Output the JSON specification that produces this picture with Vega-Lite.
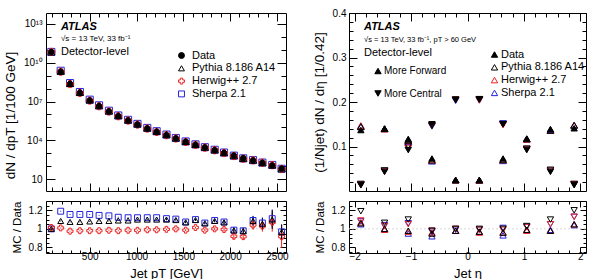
{
  "$schema": "https://vega.github.io/schema/vega-lite/v6.json",
  "autosize": {"type": "pad"},
  "padding": {"left": 3, "top": 7, "right": 0, "bottom": 0},
  "background": "white",
  "config": {
    "font": "Liberation Sans",
    "view": {"stroke": "black", "strokeWidth": 1},
    "axis": {"domain": false, "grid": false, "tickColor": "black", "tickWidth": 1, "labelColor": "black", "labelFont": "Liberation Sans", "labelFontSize": 10, "titleFont": "Liberation Sans", "titleFontSize": 13.5, "titleFontWeight": "normal", "titleColor": "black", "labelFlush": false, "labelOverlap": false},
    "legend": {"labelFont": "Liberation Sans", "labelFontSize": 11, "labelColor": "black", "padding": 0, "offset": 0, "symbolStrokeWidth": 1}
  },
  "resolve": {
    "scale": {"shape": "independent", "fill": "independent", "stroke": "independent", "color": "independent"},
    "legend": {"shape": "independent", "fill": "independent", "stroke": "independent", "color": "independent"}
  },
  "datasets": {
    "one": [{}],
    "lmain": [
      {"pt": 90, "series": "Sherpa 2.1", "v": 6.8e10}, {"pt": 190, "series": "Sherpa 2.1", "v": 2.38e9}, {"pt": 290, "series": "Sherpa 2.1", "v": 2.66e8}, {"pt": 395, "series": "Sherpa 2.1", "v": 5.43e7}, {"pt": 500, "series": "Sherpa 2.1", "v": 1.39e7}, {"pt": 600, "series": "Sherpa 2.1", "v": 5.04e6}, {"pt": 705, "series": "Sherpa 2.1", "v": 1.94e6}, {"pt": 805, "series": "Sherpa 2.1", "v": 8.33e5}, {"pt": 910, "series": "Sherpa 2.1", "v": 3.81e5}, {"pt": 1010, "series": "Sherpa 2.1", "v": 1.86e5}, {"pt": 1115, "series": "Sherpa 2.1", "v": 9.07e4}, {"pt": 1215, "series": "Sherpa 2.1", "v": 5.04e4}, {"pt": 1320, "series": "Sherpa 2.1", "v": 2.78e4}, {"pt": 1420, "series": "Sherpa 2.1", "v": 1.52e4}, {"pt": 1525, "series": "Sherpa 2.1", "v": 8160}, {"pt": 1630, "series": "Sherpa 2.1", "v": 4840}, {"pt": 1730, "series": "Sherpa 2.1", "v": 2920}, {"pt": 1835, "series": "Sherpa 2.1", "v": 1850}, {"pt": 1935, "series": "Sherpa 2.1", "v": 1130}, {"pt": 2040, "series": "Sherpa 2.1", "v": 651}, {"pt": 2140, "series": "Sherpa 2.1", "v": 401}, {"pt": 2245, "series": "Sherpa 2.1", "v": 294}, {"pt": 2345, "series": "Sherpa 2.1", "v": 189}, {"pt": 2450, "series": "Sherpa 2.1", "v": 124}, {"pt": 2550, "series": "Sherpa 2.1", "v": 63},
      {"pt": 90, "series": "Herwig++ 2.7", "v": 6.9e10}, {"pt": 190, "series": "Herwig++ 2.7", "v": 2.02e9}, {"pt": 290, "series": "Herwig++ 2.7", "v": 2.24e8}, {"pt": 395, "series": "Herwig++ 2.7", "v": 4.61e7}, {"pt": 500, "series": "Herwig++ 2.7", "v": 1.18e7}, {"pt": 600, "series": "Herwig++ 2.7", "v": 4.31e6}, {"pt": 705, "series": "Herwig++ 2.7", "v": 1.67e6}, {"pt": 805, "series": "Herwig++ 2.7", "v": 7.25e5}, {"pt": 910, "series": "Herwig++ 2.7", "v": 3.35e5}, {"pt": 1010, "series": "Herwig++ 2.7", "v": 1.64e5}, {"pt": 1115, "series": "Herwig++ 2.7", "v": 8.02e4}, {"pt": 1215, "series": "Herwig++ 2.7", "v": 4.46e4}, {"pt": 1320, "series": "Herwig++ 2.7", "v": 2.49e4}, {"pt": 1420, "series": "Herwig++ 2.7", "v": 1.38e4}, {"pt": 1525, "series": "Herwig++ 2.7", "v": 7490}, {"pt": 1630, "series": "Herwig++ 2.7", "v": 4460}, {"pt": 1730, "series": "Herwig++ 2.7", "v": 2710}, {"pt": 1835, "series": "Herwig++ 2.7", "v": 1700}, {"pt": 1935, "series": "Herwig++ 2.7", "v": 1040}, {"pt": 2040, "series": "Herwig++ 2.7", "v": 607}, {"pt": 2140, "series": "Herwig++ 2.7", "v": 376}, {"pt": 2245, "series": "Herwig++ 2.7", "v": 281}, {"pt": 2345, "series": "Herwig++ 2.7", "v": 183}, {"pt": 2450, "series": "Herwig++ 2.7", "v": 120}, {"pt": 2550, "series": "Herwig++ 2.7", "v": 60},
      {"pt": 90, "series": "Pythia 8.186 A14", "v": 6.8e10}, {"pt": 190, "series": "Pythia 8.186 A14", "v": 2.17e9}, {"pt": 290, "series": "Pythia 8.186 A14", "v": 2.47e8}, {"pt": 395, "series": "Pythia 8.186 A14", "v": 5.05e7}, {"pt": 500, "series": "Pythia 8.186 A14", "v": 1.3e7}, {"pt": 600, "series": "Pythia 8.186 A14", "v": 4.77e6}, {"pt": 705, "series": "Pythia 8.186 A14", "v": 1.84e6}, {"pt": 805, "series": "Pythia 8.186 A14", "v": 8.07e5}, {"pt": 910, "series": "Pythia 8.186 A14", "v": 3.71e5}, {"pt": 1010, "series": "Pythia 8.186 A14", "v": 1.83e5}, {"pt": 1115, "series": "Pythia 8.186 A14", "v": 8.91e4}, {"pt": 1215, "series": "Pythia 8.186 A14", "v": 4.95e4}, {"pt": 1320, "series": "Pythia 8.186 A14", "v": 2.75e4}, {"pt": 1420, "series": "Pythia 8.186 A14", "v": 1.51e4}, {"pt": 1525, "series": "Pythia 8.186 A14", "v": 8130}, {"pt": 1630, "series": "Pythia 8.186 A14", "v": 4820}, {"pt": 1730, "series": "Pythia 8.186 A14", "v": 2920}, {"pt": 1835, "series": "Pythia 8.186 A14", "v": 1840}, {"pt": 1935, "series": "Pythia 8.186 A14", "v": 1120}, {"pt": 2040, "series": "Pythia 8.186 A14", "v": 649}, {"pt": 2140, "series": "Pythia 8.186 A14", "v": 400}, {"pt": 2245, "series": "Pythia 8.186 A14", "v": 293}, {"pt": 2345, "series": "Pythia 8.186 A14", "v": 188}, {"pt": 2450, "series": "Pythia 8.186 A14", "v": 123}, {"pt": 2550, "series": "Pythia 8.186 A14", "v": 63},
      {"pt": 90, "series": "Data", "v": 6.8e10}, {"pt": 190, "series": "Data", "v": 2.0e9}, {"pt": 290, "series": "Data", "v": 2.3e8}, {"pt": 395, "series": "Data", "v": 4.7e7}, {"pt": 500, "series": "Data", "v": 1.2e7}, {"pt": 600, "series": "Data", "v": 4.4e6}, {"pt": 705, "series": "Data", "v": 1.7e6}, {"pt": 805, "series": "Data", "v": 7.4e5}, {"pt": 910, "series": "Data", "v": 3.4e5}, {"pt": 1010, "series": "Data", "v": 1.66e5}, {"pt": 1115, "series": "Data", "v": 8.1e4}, {"pt": 1215, "series": "Data", "v": 4.5e4}, {"pt": 1320, "series": "Data", "v": 2.5e4}, {"pt": 1420, "series": "Data", "v": 1.38e4}, {"pt": 1525, "series": "Data", "v": 7600}, {"pt": 1630, "series": "Data", "v": 4400}, {"pt": 1730, "series": "Data", "v": 2750}, {"pt": 1835, "series": "Data", "v": 1700}, {"pt": 1935, "series": "Data", "v": 1050}, {"pt": 2040, "series": "Data", "v": 660}, {"pt": 2140, "series": "Data", "v": 410}, {"pt": 2245, "series": "Data", "v": 270}, {"pt": 2345, "series": "Data", "v": 178}, {"pt": 2450, "series": "Data", "v": 112}, {"pt": 2550, "series": "Data", "v": 65}
    ],
    "lratio": [
      {"pt": 90, "series": "Sherpa 2.1", "r": 1.0, "e": 0.005}, {"pt": 190, "series": "Sherpa 2.1", "r": 1.19, "e": 0.005}, {"pt": 290, "series": "Sherpa 2.1", "r": 1.155, "e": 0.005}, {"pt": 395, "series": "Sherpa 2.1", "r": 1.155, "e": 0.005}, {"pt": 500, "series": "Sherpa 2.1", "r": 1.155, "e": 0.005}, {"pt": 600, "series": "Sherpa 2.1", "r": 1.145, "e": 0.005}, {"pt": 705, "series": "Sherpa 2.1", "r": 1.14, "e": 0.005}, {"pt": 805, "series": "Sherpa 2.1", "r": 1.125, "e": 0.005}, {"pt": 910, "series": "Sherpa 2.1", "r": 1.12, "e": 0.005}, {"pt": 1010, "series": "Sherpa 2.1", "r": 1.12, "e": 0.005}, {"pt": 1115, "series": "Sherpa 2.1", "r": 1.12, "e": 0.005}, {"pt": 1215, "series": "Sherpa 2.1", "r": 1.12, "e": 0.005}, {"pt": 1320, "series": "Sherpa 2.1", "r": 1.11, "e": 0.008}, {"pt": 1420, "series": "Sherpa 2.1", "r": 1.105, "e": 0.008}, {"pt": 1525, "series": "Sherpa 2.1", "r": 1.074, "e": 0.01}, {"pt": 1630, "series": "Sherpa 2.1", "r": 1.10, "e": 0.01}, {"pt": 1730, "series": "Sherpa 2.1", "r": 1.063, "e": 0.012}, {"pt": 1835, "series": "Sherpa 2.1", "r": 1.09, "e": 0.015}, {"pt": 1935, "series": "Sherpa 2.1", "r": 1.074, "e": 0.02}, {"pt": 2040, "series": "Sherpa 2.1", "r": 0.986, "e": 0.03}, {"pt": 2140, "series": "Sherpa 2.1", "r": 0.979, "e": 0.035}, {"pt": 2245, "series": "Sherpa 2.1", "r": 1.09, "e": 0.05}, {"pt": 2345, "series": "Sherpa 2.1", "r": 1.063, "e": 0.06}, {"pt": 2450, "series": "Sherpa 2.1", "r": 1.11, "e": 0.1}, {"pt": 2550, "series": "Sherpa 2.1", "r": 0.968, "e": 0.08},
      {"pt": 90, "series": "Herwig++ 2.7", "r": 1.015, "e": 0.005}, {"pt": 190, "series": "Herwig++ 2.7", "r": 1.01, "e": 0.005}, {"pt": 290, "series": "Herwig++ 2.7", "r": 0.975, "e": 0.005}, {"pt": 395, "series": "Herwig++ 2.7", "r": 0.98, "e": 0.005}, {"pt": 500, "series": "Herwig++ 2.7", "r": 0.98, "e": 0.005}, {"pt": 600, "series": "Herwig++ 2.7", "r": 0.98, "e": 0.005}, {"pt": 705, "series": "Herwig++ 2.7", "r": 0.985, "e": 0.005}, {"pt": 805, "series": "Herwig++ 2.7", "r": 0.98, "e": 0.005}, {"pt": 910, "series": "Herwig++ 2.7", "r": 0.985, "e": 0.005}, {"pt": 1010, "series": "Herwig++ 2.7", "r": 0.985, "e": 0.005}, {"pt": 1115, "series": "Herwig++ 2.7", "r": 0.99, "e": 0.005}, {"pt": 1215, "series": "Herwig++ 2.7", "r": 0.99, "e": 0.005}, {"pt": 1320, "series": "Herwig++ 2.7", "r": 0.995, "e": 0.008}, {"pt": 1420, "series": "Herwig++ 2.7", "r": 1.0, "e": 0.008}, {"pt": 1525, "series": "Herwig++ 2.7", "r": 0.986, "e": 0.01}, {"pt": 1630, "series": "Herwig++ 2.7", "r": 1.014, "e": 0.01}, {"pt": 1730, "series": "Herwig++ 2.7", "r": 0.986, "e": 0.012}, {"pt": 1835, "series": "Herwig++ 2.7", "r": 1.0, "e": 0.015}, {"pt": 1935, "series": "Herwig++ 2.7", "r": 0.993, "e": 0.02}, {"pt": 2040, "series": "Herwig++ 2.7", "r": 0.92, "e": 0.03}, {"pt": 2140, "series": "Herwig++ 2.7", "r": 0.916, "e": 0.035}, {"pt": 2245, "series": "Herwig++ 2.7", "r": 1.04, "e": 0.05}, {"pt": 2345, "series": "Herwig++ 2.7", "r": 1.03, "e": 0.06}, {"pt": 2450, "series": "Herwig++ 2.7", "r": 1.07, "e": 0.1}, {"pt": 2550, "series": "Herwig++ 2.7", "r": 0.916, "e": 0.12},
      {"pt": 90, "series": "Pythia 8.186 A14", "r": 1.0, "e": 0.005}, {"pt": 190, "series": "Pythia 8.186 A14", "r": 1.085, "e": 0.005}, {"pt": 290, "series": "Pythia 8.186 A14", "r": 1.075, "e": 0.005}, {"pt": 395, "series": "Pythia 8.186 A14", "r": 1.075, "e": 0.005}, {"pt": 500, "series": "Pythia 8.186 A14", "r": 1.08, "e": 0.005}, {"pt": 600, "series": "Pythia 8.186 A14", "r": 1.085, "e": 0.005}, {"pt": 705, "series": "Pythia 8.186 A14", "r": 1.085, "e": 0.005}, {"pt": 805, "series": "Pythia 8.186 A14", "r": 1.09, "e": 0.005}, {"pt": 910, "series": "Pythia 8.186 A14", "r": 1.09, "e": 0.005}, {"pt": 1010, "series": "Pythia 8.186 A14", "r": 1.1, "e": 0.005}, {"pt": 1115, "series": "Pythia 8.186 A14", "r": 1.1, "e": 0.005}, {"pt": 1215, "series": "Pythia 8.186 A14", "r": 1.1, "e": 0.005}, {"pt": 1320, "series": "Pythia 8.186 A14", "r": 1.1, "e": 0.008}, {"pt": 1420, "series": "Pythia 8.186 A14", "r": 1.095, "e": 0.008}, {"pt": 1525, "series": "Pythia 8.186 A14", "r": 1.07, "e": 0.01}, {"pt": 1630, "series": "Pythia 8.186 A14", "r": 1.095, "e": 0.01}, {"pt": 1730, "series": "Pythia 8.186 A14", "r": 1.06, "e": 0.012}, {"pt": 1835, "series": "Pythia 8.186 A14", "r": 1.085, "e": 0.015}, {"pt": 1935, "series": "Pythia 8.186 A14", "r": 1.07, "e": 0.02}, {"pt": 2040, "series": "Pythia 8.186 A14", "r": 0.983, "e": 0.03}, {"pt": 2140, "series": "Pythia 8.186 A14", "r": 0.975, "e": 0.035}, {"pt": 2245, "series": "Pythia 8.186 A14", "r": 1.085, "e": 0.05}, {"pt": 2345, "series": "Pythia 8.186 A14", "r": 1.055, "e": 0.06}, {"pt": 2450, "series": "Pythia 8.186 A14", "r": 1.1, "e": 0.1}, {"pt": 2550, "series": "Pythia 8.186 A14", "r": 0.965, "e": 0.08}
    ],
    "rmain": [
      {"eta": -1.89, "dir": "More Forward", "series": "Sherpa 2.1", "v": 0.144}, {"eta": -1.47, "dir": "More Forward", "series": "Sherpa 2.1", "v": 0.140}, {"eta": -1.05, "dir": "More Forward", "series": "Sherpa 2.1", "v": 0.111}, {"eta": -0.63, "dir": "More Forward", "series": "Sherpa 2.1", "v": 0.067}, {"eta": -0.21, "dir": "More Forward", "series": "Sherpa 2.1", "v": 0.0245}, {"eta": 0.21, "dir": "More Forward", "series": "Sherpa 2.1", "v": 0.0243}, {"eta": 0.63, "dir": "More Forward", "series": "Sherpa 2.1", "v": 0.068}, {"eta": 1.05, "dir": "More Forward", "series": "Sherpa 2.1", "v": 0.117}, {"eta": 1.47, "dir": "More Forward", "series": "Sherpa 2.1", "v": 0.138}, {"eta": 1.89, "dir": "More Forward", "series": "Sherpa 2.1", "v": 0.147},
      {"eta": -1.89, "dir": "More Central", "series": "Sherpa 2.1", "v": 0.014}, {"eta": -1.47, "dir": "More Central", "series": "Sherpa 2.1", "v": 0.0447}, {"eta": -1.05, "dir": "More Central", "series": "Sherpa 2.1", "v": 0.0975}, {"eta": -0.63, "dir": "More Central", "series": "Sherpa 2.1", "v": 0.1455}, {"eta": -0.21, "dir": "More Central", "series": "Sherpa 2.1", "v": 0.203}, {"eta": 0.21, "dir": "More Central", "series": "Sherpa 2.1", "v": 0.204}, {"eta": 0.63, "dir": "More Central", "series": "Sherpa 2.1", "v": 0.1515}, {"eta": 1.05, "dir": "More Central", "series": "Sherpa 2.1", "v": 0.0938}, {"eta": 1.47, "dir": "More Central", "series": "Sherpa 2.1", "v": 0.0452}, {"eta": 1.89, "dir": "More Central", "series": "Sherpa 2.1", "v": 0.0147},
      {"eta": -1.89, "dir": "More Forward", "series": "Herwig++ 2.7", "v": 0.147}, {"eta": -1.47, "dir": "More Forward", "series": "Herwig++ 2.7", "v": 0.139}, {"eta": -1.05, "dir": "More Forward", "series": "Herwig++ 2.7", "v": 0.113}, {"eta": -0.63, "dir": "More Forward", "series": "Herwig++ 2.7", "v": 0.070}, {"eta": -0.21, "dir": "More Forward", "series": "Herwig++ 2.7", "v": 0.0245}, {"eta": 0.21, "dir": "More Forward", "series": "Herwig++ 2.7", "v": 0.024}, {"eta": 0.63, "dir": "More Forward", "series": "Herwig++ 2.7", "v": 0.070}, {"eta": 1.05, "dir": "More Forward", "series": "Herwig++ 2.7", "v": 0.116}, {"eta": 1.47, "dir": "More Forward", "series": "Herwig++ 2.7", "v": 0.136}, {"eta": 1.89, "dir": "More Forward", "series": "Herwig++ 2.7", "v": 0.148},
      {"eta": -1.89, "dir": "More Central", "series": "Herwig++ 2.7", "v": 0.0142}, {"eta": -1.47, "dir": "More Central", "series": "Herwig++ 2.7", "v": 0.0443}, {"eta": -1.05, "dir": "More Central", "series": "Herwig++ 2.7", "v": 0.0966}, {"eta": -0.63, "dir": "More Central", "series": "Herwig++ 2.7", "v": 0.147}, {"eta": -0.21, "dir": "More Central", "series": "Herwig++ 2.7", "v": 0.205}, {"eta": 0.21, "dir": "More Central", "series": "Herwig++ 2.7", "v": 0.204}, {"eta": 0.63, "dir": "More Central", "series": "Herwig++ 2.7", "v": 0.1485}, {"eta": 1.05, "dir": "More Central", "series": "Herwig++ 2.7", "v": 0.0938}, {"eta": 1.47, "dir": "More Central", "series": "Herwig++ 2.7", "v": 0.0452}, {"eta": 1.89, "dir": "More Central", "series": "Herwig++ 2.7", "v": 0.0147},
      {"eta": -1.89, "dir": "More Forward", "series": "Pythia 8.186 A14", "v": 0.145}, {"eta": -1.47, "dir": "More Forward", "series": "Pythia 8.186 A14", "v": 0.140}, {"eta": -1.05, "dir": "More Forward", "series": "Pythia 8.186 A14", "v": 0.115}, {"eta": -0.63, "dir": "More Forward", "series": "Pythia 8.186 A14", "v": 0.069}, {"eta": -0.21, "dir": "More Forward", "series": "Pythia 8.186 A14", "v": 0.0245}, {"eta": 0.21, "dir": "More Forward", "series": "Pythia 8.186 A14", "v": 0.0243}, {"eta": 0.63, "dir": "More Forward", "series": "Pythia 8.186 A14", "v": 0.070}, {"eta": 1.05, "dir": "More Forward", "series": "Pythia 8.186 A14", "v": 0.117}, {"eta": 1.47, "dir": "More Forward", "series": "Pythia 8.186 A14", "v": 0.136}, {"eta": 1.89, "dir": "More Forward", "series": "Pythia 8.186 A14", "v": 0.148},
      {"eta": -1.89, "dir": "More Central", "series": "Pythia 8.186 A14", "v": 0.0155}, {"eta": -1.47, "dir": "More Central", "series": "Pythia 8.186 A14", "v": 0.0458}, {"eta": -1.05, "dir": "More Central", "series": "Pythia 8.186 A14", "v": 0.101}, {"eta": -0.63, "dir": "More Central", "series": "Pythia 8.186 A14", "v": 0.147}, {"eta": -0.21, "dir": "More Central", "series": "Pythia 8.186 A14", "v": 0.205}, {"eta": 0.21, "dir": "More Central", "series": "Pythia 8.186 A14", "v": 0.206}, {"eta": 0.63, "dir": "More Central", "series": "Pythia 8.186 A14", "v": 0.150}, {"eta": 1.05, "dir": "More Central", "series": "Pythia 8.186 A14", "v": 0.0948}, {"eta": 1.47, "dir": "More Central", "series": "Pythia 8.186 A14", "v": 0.0473}, {"eta": 1.89, "dir": "More Central", "series": "Pythia 8.186 A14", "v": 0.0156},
      {"eta": -1.89, "dir": "More Forward", "series": "Data", "v": 0.137}, {"eta": -1.47, "dir": "More Forward", "series": "Data", "v": 0.140}, {"eta": -1.05, "dir": "More Forward", "series": "Data", "v": 0.117}, {"eta": -0.63, "dir": "More Forward", "series": "Data", "v": 0.073}, {"eta": -0.21, "dir": "More Forward", "series": "Data", "v": 0.025}, {"eta": 0.21, "dir": "More Forward", "series": "Data", "v": 0.025}, {"eta": 0.63, "dir": "More Forward", "series": "Data", "v": 0.073}, {"eta": 1.05, "dir": "More Forward", "series": "Data", "v": 0.118}, {"eta": 1.47, "dir": "More Forward", "series": "Data", "v": 0.139}, {"eta": 1.89, "dir": "More Forward", "series": "Data", "v": 0.141},
      {"eta": -1.89, "dir": "More Central", "series": "Data", "v": 0.013}, {"eta": -1.47, "dir": "More Central", "series": "Data", "v": 0.043}, {"eta": -1.05, "dir": "More Central", "series": "Data", "v": 0.092}, {"eta": -0.63, "dir": "More Central", "series": "Data", "v": 0.150}, {"eta": -0.21, "dir": "More Central", "series": "Data", "v": 0.205}, {"eta": 0.21, "dir": "More Central", "series": "Data", "v": 0.206}, {"eta": 0.63, "dir": "More Central", "series": "Data", "v": 0.150}, {"eta": 1.05, "dir": "More Central", "series": "Data", "v": 0.092}, {"eta": 1.47, "dir": "More Central", "series": "Data", "v": 0.043}, {"eta": 1.89, "dir": "More Central", "series": "Data", "v": 0.013}
    ],
    "rratio": [
      {"eta": -1.89, "dir": "More Forward", "series": "Sherpa 2.1", "r": 1.05}, {"eta": -1.47, "dir": "More Forward", "series": "Sherpa 2.1", "r": 1.0}, {"eta": -1.05, "dir": "More Forward", "series": "Sherpa 2.1", "r": 0.95}, {"eta": -0.63, "dir": "More Forward", "series": "Sherpa 2.1", "r": 0.92}, {"eta": -0.21, "dir": "More Forward", "series": "Sherpa 2.1", "r": 0.98}, {"eta": 0.21, "dir": "More Forward", "series": "Sherpa 2.1", "r": 0.97}, {"eta": 0.63, "dir": "More Forward", "series": "Sherpa 2.1", "r": 0.93}, {"eta": 1.05, "dir": "More Forward", "series": "Sherpa 2.1", "r": 0.99}, {"eta": 1.47, "dir": "More Forward", "series": "Sherpa 2.1", "r": 0.99}, {"eta": 1.89, "dir": "More Forward", "series": "Sherpa 2.1", "r": 1.04},
      {"eta": -1.89, "dir": "More Central", "series": "Sherpa 2.1", "r": 1.08}, {"eta": -1.47, "dir": "More Central", "series": "Sherpa 2.1", "r": 1.04}, {"eta": -1.05, "dir": "More Central", "series": "Sherpa 2.1", "r": 1.06}, {"eta": -0.63, "dir": "More Central", "series": "Sherpa 2.1", "r": 0.97}, {"eta": -0.21, "dir": "More Central", "series": "Sherpa 2.1", "r": 0.99}, {"eta": 0.21, "dir": "More Central", "series": "Sherpa 2.1", "r": 0.99}, {"eta": 0.63, "dir": "More Central", "series": "Sherpa 2.1", "r": 1.01}, {"eta": 1.05, "dir": "More Central", "series": "Sherpa 2.1", "r": 1.02}, {"eta": 1.47, "dir": "More Central", "series": "Sherpa 2.1", "r": 1.05}, {"eta": 1.89, "dir": "More Central", "series": "Sherpa 2.1", "r": 1.13},
      {"eta": -1.89, "dir": "More Forward", "series": "Herwig++ 2.7", "r": 1.07}, {"eta": -1.47, "dir": "More Forward", "series": "Herwig++ 2.7", "r": 0.99}, {"eta": -1.05, "dir": "More Forward", "series": "Herwig++ 2.7", "r": 0.97}, {"eta": -0.63, "dir": "More Forward", "series": "Herwig++ 2.7", "r": 0.96}, {"eta": -0.21, "dir": "More Forward", "series": "Herwig++ 2.7", "r": 0.98}, {"eta": 0.21, "dir": "More Forward", "series": "Herwig++ 2.7", "r": 0.96}, {"eta": 0.63, "dir": "More Forward", "series": "Herwig++ 2.7", "r": 0.96}, {"eta": 1.05, "dir": "More Forward", "series": "Herwig++ 2.7", "r": 0.98}, {"eta": 1.47, "dir": "More Forward", "series": "Herwig++ 2.7", "r": 0.98}, {"eta": 1.89, "dir": "More Forward", "series": "Herwig++ 2.7", "r": 1.05},
      {"eta": -1.89, "dir": "More Central", "series": "Herwig++ 2.7", "r": 1.09}, {"eta": -1.47, "dir": "More Central", "series": "Herwig++ 2.7", "r": 1.03}, {"eta": -1.05, "dir": "More Central", "series": "Herwig++ 2.7", "r": 1.05}, {"eta": -0.63, "dir": "More Central", "series": "Herwig++ 2.7", "r": 0.98}, {"eta": -0.21, "dir": "More Central", "series": "Herwig++ 2.7", "r": 1.0}, {"eta": 0.21, "dir": "More Central", "series": "Herwig++ 2.7", "r": 0.99}, {"eta": 0.63, "dir": "More Central", "series": "Herwig++ 2.7", "r": 0.99}, {"eta": 1.05, "dir": "More Central", "series": "Herwig++ 2.7", "r": 1.02}, {"eta": 1.47, "dir": "More Central", "series": "Herwig++ 2.7", "r": 1.05}, {"eta": 1.89, "dir": "More Central", "series": "Herwig++ 2.7", "r": 1.13},
      {"eta": -1.89, "dir": "More Forward", "series": "Pythia 8.186 A14", "r": 1.06}, {"eta": -1.47, "dir": "More Forward", "series": "Pythia 8.186 A14", "r": 1.0}, {"eta": -1.05, "dir": "More Forward", "series": "Pythia 8.186 A14", "r": 0.98}, {"eta": -0.63, "dir": "More Forward", "series": "Pythia 8.186 A14", "r": 0.95}, {"eta": -0.21, "dir": "More Forward", "series": "Pythia 8.186 A14", "r": 0.98}, {"eta": 0.21, "dir": "More Forward", "series": "Pythia 8.186 A14", "r": 0.97}, {"eta": 0.63, "dir": "More Forward", "series": "Pythia 8.186 A14", "r": 0.96}, {"eta": 1.05, "dir": "More Forward", "series": "Pythia 8.186 A14", "r": 0.99}, {"eta": 1.47, "dir": "More Forward", "series": "Pythia 8.186 A14", "r": 0.98}, {"eta": 1.89, "dir": "More Forward", "series": "Pythia 8.186 A14", "r": 1.05},
      {"eta": -1.89, "dir": "More Central", "series": "Pythia 8.186 A14", "r": 1.19}, {"eta": -1.47, "dir": "More Central", "series": "Pythia 8.186 A14", "r": 1.065}, {"eta": -1.05, "dir": "More Central", "series": "Pythia 8.186 A14", "r": 1.1}, {"eta": -0.63, "dir": "More Central", "series": "Pythia 8.186 A14", "r": 0.98}, {"eta": -0.21, "dir": "More Central", "series": "Pythia 8.186 A14", "r": 1.0}, {"eta": 0.21, "dir": "More Central", "series": "Pythia 8.186 A14", "r": 1.0}, {"eta": 0.63, "dir": "More Central", "series": "Pythia 8.186 A14", "r": 1.0}, {"eta": 1.05, "dir": "More Central", "series": "Pythia 8.186 A14", "r": 1.03}, {"eta": 1.47, "dir": "More Central", "series": "Pythia 8.186 A14", "r": 1.1}, {"eta": 1.89, "dir": "More Central", "series": "Pythia 8.186 A14", "r": 1.2}
    ]
  },
  "columns": 2,
  "spacing": {"row": 10, "column": 63},
  "bounds": "flush",
  "concat": [
    {
      "width": 240, "height": 178,
      "resolve": {"axis": {"x": "independent", "y": "independent"}},
      "layer": [
        {
          "data": {"name": "lmain"},
          "transform": [{"filter": "datum.series != 'Data'"}],
          "mark": {"type": "point", "filled": true, "size": 50, "strokeWidth": 1, "opacity": 1},
          "encoding": {
            "x": {"field": "pt", "type": "quantitative", "scale": {"domain": [33, 2597], "nice": false, "zero": false}, "axis": {"orient": "bottom", "values": [500, 1000, 1500, 2000, 2500], "labels": false, "tickSize": -8, "title": null}},
            "y": {"field": "v", "type": "quantitative", "scale": {"type": "log", "domain": [1.2, 7e13], "nice": false}, "axis": {"orient": "left", "values": [10, 10000, 1e7, 1e10, 1e13], "tickSize": -9, "labelPadding": 13, "labelExpr": "datum.value < 100 ? '10' : '10' + (datum.value < 1e5 ? '⁴' : datum.value < 1e8 ? '⁷' : datum.value < 1e11 ? '¹⁰' : '¹³')", "title": "dN / dpT [1/100 GeV]", "titlePadding": 6, "titleY": 102}},
            "shape": {"field": "series", "type": "nominal", "scale": {"domain": ["Data", "Pythia 8.186 A14", "Herwig++ 2.7", "Sherpa 2.1"], "range": ["circle", "triangle-up", "cross", "square"]}, "legend": {"orient": "none", "legendX": 130, "legendY": 37, "title": null, "symbolSize": 35, "labelOffset": 5, "rowPadding": 0.8}},
            "fill": {"field": "series", "type": "nominal", "scale": {"domain": ["Data", "Pythia 8.186 A14", "Herwig++ 2.7", "Sherpa 2.1"], "range": ["black", "transparent", "transparent", "transparent"]}, "legend": {"orient": "none", "legendX": 130, "legendY": 37, "title": null, "symbolSize": 35, "labelOffset": 5, "rowPadding": 0.8}},
            "stroke": {"field": "series", "type": "nominal", "scale": {"domain": ["Data", "Pythia 8.186 A14", "Herwig++ 2.7", "Sherpa 2.1"], "range": ["black", "black", "#ee2222", "#2424dd"]}, "legend": {"orient": "none", "legendX": 130, "legendY": 37, "title": null, "symbolSize": 35, "labelOffset": 5, "rowPadding": 0.8}}
          }
        },
        {
          "data": {"name": "lmain"},
          "transform": [{"filter": "datum.series == 'Data'"}],
          "mark": {"type": "point", "filled": true, "size": 30, "strokeWidth": 1, "opacity": 1},
          "encoding": {
            "x": {"field": "pt", "type": "quantitative", "scale": {"domain": [33, 2597], "nice": false, "zero": false}, "axis": {"orient": "top", "values": [500, 1000, 1500, 2000, 2500], "labels": false, "tickSize": -8, "title": null}},
            "y": {"field": "v", "type": "quantitative", "scale": {"type": "log", "domain": [1.2, 7e13], "nice": false}, "axis": {"orient": "right", "values": [10, 10000, 1e7, 1e10, 1e13], "labels": false, "tickSize": -9, "title": null}},
            "shape": {"field": "series", "type": "nominal", "scale": {"domain": ["Data", "Pythia 8.186 A14", "Herwig++ 2.7", "Sherpa 2.1"], "range": ["circle", "triangle-up", "cross", "square"]}, "legend": {"orient": "none", "legendX": 130, "legendY": 37, "title": null, "symbolSize": 35, "labelOffset": 5, "rowPadding": 0.8}},
            "fill": {"field": "series", "type": "nominal", "scale": {"domain": ["Data", "Pythia 8.186 A14", "Herwig++ 2.7", "Sherpa 2.1"], "range": ["black", "transparent", "transparent", "transparent"]}, "legend": {"orient": "none", "legendX": 130, "legendY": 37, "title": null, "symbolSize": 35, "labelOffset": 5, "rowPadding": 0.8}},
            "stroke": {"field": "series", "type": "nominal", "scale": {"domain": ["Data", "Pythia 8.186 A14", "Herwig++ 2.7", "Sherpa 2.1"], "range": ["black", "black", "#ee2222", "#2424dd"]}, "legend": {"orient": "none", "legendX": 130, "legendY": 37, "title": null, "symbolSize": 35, "labelOffset": 5, "rowPadding": 0.8}}
          }
        },
        {
          "data": {"name": "one"},
          "mark": {"type": "text", "text": "ATLAS", "align": "left", "baseline": "middle", "font": "Liberation Sans", "fontSize": 11, "fontWeight": "bold", "fontStyle": "italic", "color": "black"},
          "encoding": {
            "x": {"datum": 193, "type": "quantitative", "scale": {"domain": [33, 2597], "nice": false, "zero": false}, "axis": {"orient": "bottom", "values": [100, 200, 300, 400, 500, 600, 700, 800, 900, 1000, 1100, 1200, 1300, 1400, 1500, 1600, 1700, 1800, 1900, 2000, 2100, 2200, 2300, 2400, 2500], "labels": false, "tickSize": -4, "title": null}},
            "y": {"datum": 5.7e12, "type": "quantitative", "scale": {"type": "log", "domain": [1.2, 7e13], "nice": false}, "axis": {"orient": "left", "values": [10, 100, 1000, 10000, 1e5, 1e6, 1e7, 1e8, 1e9, 1e10, 1e11, 1e12, 1e13], "labels": false, "tickSize": -5, "title": null}}
          }
        },
        {
          "data": {"name": "one"},
          "mark": {"type": "text", "text": "√s = 13 TeV, 33 fb⁻¹", "align": "left", "baseline": "middle", "font": "Liberation Sans", "fontSize": 8, "color": "black"},
          "encoding": {
            "x": {"datum": 193, "type": "quantitative", "scale": {"domain": [33, 2597], "nice": false, "zero": false}, "axis": {"orient": "top", "values": [100, 200, 300, 400, 500, 600, 700, 800, 900, 1000, 1100, 1200, 1300, 1400, 1500, 1600, 1700, 1800, 1900, 2000, 2100, 2200, 2300, 2400, 2500], "labels": false, "tickSize": -4, "title": null}},
            "y": {"datum": 6.8e11, "type": "quantitative", "scale": {"type": "log", "domain": [1.2, 7e13], "nice": false}, "axis": {"orient": "right", "values": [10, 100, 1000, 10000, 1e5, 1e6, 1e7, 1e8, 1e9, 1e10, 1e11, 1e12, 1e13], "labels": false, "tickSize": -5, "title": null}}
          }
        },
        {
          "data": {"name": "one"},
          "mark": {"type": "text", "text": "Detector-level", "align": "left", "baseline": "middle", "font": "Liberation Sans", "fontSize": 11, "color": "black"},
          "encoding": {
            "x": {"datum": 193, "type": "quantitative", "scale": {"domain": [33, 2597], "nice": false, "zero": false}, "axis": null},
            "y": {"datum": 6.8e10, "type": "quantitative", "scale": {"type": "log", "domain": [1.2, 7e13], "nice": false}, "axis": null}
          }
        }
      ]
    },
    {
      "width": 237, "height": 178,
      "resolve": {"axis": {"x": "independent", "y": "independent"}},
      "layer": [
        {
          "data": {"name": "rmain"},
          "transform": [{"filter": "datum.series != 'Data'"}],
          "mark": {"type": "point", "filled": true, "size": 45, "strokeWidth": 1, "opacity": 1},
          "encoding": {
            "x": {"field": "eta", "type": "quantitative", "scale": {"domain": [-2.1, 2.1], "nice": false, "zero": false}, "axis": {"orient": "bottom", "values": [-2, -1, 0, 1, 2], "labels": false, "tickSize": -8, "title": null}},
            "y": {"field": "v", "type": "quantitative", "scale": {"domain": [0, 0.4], "nice": false, "zero": false}, "axis": {"orient": "left", "values": [0.1, 0.2, 0.3, 0.4], "tickSize": -8, "labelPadding": 11, "format": ".1f", "title": "(1/Njet) dN / dη [1/0.42]", "titlePadding": 6}},
            "shape": {"field": "dir", "type": "nominal", "scale": {"domain": ["More Forward", "More Central"], "range": ["triangle-up", "triangle-down"]}, "legend": {"orient": "none", "legendX": 24, "legendY": 53, "title": null, "symbolSize": 40, "labelOffset": 1, "rowPadding": 12.5, "labelFontSize": 10, "symbolFillColor": "black", "symbolStrokeColor": "black"}},
            "fill": {"field": "series", "type": "nominal", "scale": {"domain": ["Data", "Pythia 8.186 A14", "Herwig++ 2.7", "Sherpa 2.1"], "range": ["black", "transparent", "transparent", "transparent"]}, "legend": {"orient": "none", "legendX": 140, "legendY": 36, "title": null, "symbolSize": 40, "symbolType": "triangle-up", "labelOffset": 1, "rowPadding": 0.8}},
            "stroke": {"field": "series", "type": "nominal", "scale": {"domain": ["Data", "Pythia 8.186 A14", "Herwig++ 2.7", "Sherpa 2.1"], "range": ["black", "black", "#ee2222", "#2424dd"]}, "legend": {"orient": "none", "legendX": 140, "legendY": 36, "title": null, "symbolSize": 40, "symbolType": "triangle-up", "labelOffset": 1, "rowPadding": 0.8}}
          }
        },
        {
          "data": {"name": "rmain"},
          "transform": [{"filter": "datum.series == 'Data'"}],
          "mark": {"type": "point", "filled": true, "size": 40, "strokeWidth": 1, "opacity": 1},
          "encoding": {
            "x": {"field": "eta", "type": "quantitative", "scale": {"domain": [-2.1, 2.1], "nice": false, "zero": false}, "axis": {"orient": "top", "values": [-2, -1, 0, 1, 2], "labels": false, "tickSize": -8, "title": null}},
            "y": {"field": "v", "type": "quantitative", "scale": {"domain": [0, 0.4], "nice": false, "zero": false}, "axis": {"orient": "right", "values": [0.1, 0.2, 0.3, 0.4], "labels": false, "tickSize": -8, "title": null}},
            "shape": {"field": "dir", "type": "nominal", "scale": {"domain": ["More Forward", "More Central"], "range": ["triangle-up", "triangle-down"]}, "legend": {"orient": "none", "legendX": 24, "legendY": 53, "title": null, "symbolSize": 40, "labelOffset": 1, "rowPadding": 12.5, "labelFontSize": 10, "symbolFillColor": "black", "symbolStrokeColor": "black"}},
            "fill": {"field": "series", "type": "nominal", "scale": {"domain": ["Data", "Pythia 8.186 A14", "Herwig++ 2.7", "Sherpa 2.1"], "range": ["black", "transparent", "transparent", "transparent"]}, "legend": {"orient": "none", "legendX": 140, "legendY": 36, "title": null, "symbolSize": 40, "symbolType": "triangle-up", "labelOffset": 1, "rowPadding": 0.8}},
            "stroke": {"field": "series", "type": "nominal", "scale": {"domain": ["Data", "Pythia 8.186 A14", "Herwig++ 2.7", "Sherpa 2.1"], "range": ["black", "black", "#ee2222", "#2424dd"]}, "legend": {"orient": "none", "legendX": 140, "legendY": 36, "title": null, "symbolSize": 40, "symbolType": "triangle-up", "labelOffset": 1, "rowPadding": 0.8}}
          }
        },
        {
          "data": {"name": "one"},
          "mark": {"type": "text", "text": "ATLAS", "align": "left", "baseline": "middle", "font": "Liberation Sans", "fontSize": 11, "fontWeight": "bold", "fontStyle": "italic", "color": "black"},
          "encoding": {
            "x": {"datum": -1.834, "type": "quantitative", "scale": {"domain": [-2.1, 2.1], "nice": false, "zero": false}, "axis": {"orient": "bottom", "values": [-2, -1.8, -1.6, -1.4, -1.2, -1, -0.8, -0.6, -0.4, -0.2, 0, 0.2, 0.4, 0.6, 0.8, 1, 1.2, 1.4, 1.6, 1.8, 2], "labels": false, "tickSize": -4, "title": null}},
            "y": {"datum": 0.3685, "type": "quantitative", "scale": {"domain": [0, 0.4], "nice": false, "zero": false}, "axis": {"orient": "left", "values": [0.02, 0.04, 0.06, 0.08, 0.1, 0.12, 0.14, 0.16, 0.18, 0.2, 0.22, 0.24, 0.26, 0.28, 0.3, 0.32, 0.34, 0.36, 0.38, 0.4], "labels": false, "tickSize": -4, "title": null}}
          }
        },
        {
          "data": {"name": "one"},
          "mark": {"type": "text", "text": "√s = 13 TeV, 33 fb⁻¹, pT > 60 GeV", "align": "left", "baseline": "middle", "font": "Liberation Sans", "fontSize": 7.5, "color": "black"},
          "encoding": {
            "x": {"datum": -1.834, "type": "quantitative", "scale": {"domain": [-2.1, 2.1], "nice": false, "zero": false}, "axis": {"orient": "top", "values": [-2, -1.8, -1.6, -1.4, -1.2, -1, -0.8, -0.6, -0.4, -0.2, 0, 0.2, 0.4, 0.6, 0.8, 1, 1.2, 1.4, 1.6, 1.8, 2], "labels": false, "tickSize": -4, "title": null}},
            "y": {"datum": 0.339, "type": "quantitative", "scale": {"domain": [0, 0.4], "nice": false, "zero": false}, "axis": {"orient": "right", "values": [0.02, 0.04, 0.06, 0.08, 0.1, 0.12, 0.14, 0.16, 0.18, 0.2, 0.22, 0.24, 0.26, 0.28, 0.3, 0.32, 0.34, 0.36, 0.38, 0.4], "labels": false, "tickSize": -4, "title": null}}
          }
        },
        {
          "data": {"name": "one"},
          "mark": {"type": "text", "text": "Detector-level", "align": "left", "baseline": "middle", "font": "Liberation Sans", "fontSize": 11, "color": "black"},
          "encoding": {
            "x": {"datum": -1.834, "type": "quantitative", "scale": {"domain": [-2.1, 2.1], "nice": false, "zero": false}, "axis": null},
            "y": {"datum": 0.311, "type": "quantitative", "scale": {"domain": [0, 0.4], "nice": false, "zero": false}, "axis": null}
          }
        }
      ]
    },
    {
      "width": 240, "height": 52,
      "resolve": {"axis": {"x": "independent", "y": "independent"}},
      "layer": [
        {
          "data": {"name": "one"},
          "mark": {"type": "rule", "color": "#d8d8d8", "strokeDash": [2, 2]},
          "encoding": {
            "y": {"datum": 1, "type": "quantitative", "scale": {"domain": [0.74, 1.3], "nice": false, "zero": false}, "axis": {"orient": "left", "values": [0.8, 1, 1.2], "tickSize": -6, "labelPadding": 10, "labelExpr": "datum.value == 1 ? '1' : format(datum.value, '.1f')", "title": "MC / Data", "titleFontSize": 11.5, "titlePadding": 6}}
          }
        },
        {
          "data": {"name": "lratio"},
          "mark": {"type": "errorbar", "ticks": false, "thickness": 1},
          "encoding": {
            "x": {"field": "pt", "type": "quantitative", "scale": {"domain": [33, 2597], "nice": false, "zero": false}, "axis": {"orient": "bottom", "values": [500, 1000, 1500, 2000, 2500], "format": "d", "tickSize": -6, "labelPadding": 4, "title": "Jet pT [GeV]", "titleFontSize": 13, "titlePadding": 6}},
            "y": {"field": "r", "type": "quantitative", "scale": {"domain": [0.74, 1.3], "nice": false, "zero": false}, "axis": {"orient": "right", "values": [0.8, 1, 1.2], "labels": false, "tickSize": -6, "title": null}},
            "yError": {"field": "e"},
            "color": {"field": "series", "type": "nominal", "scale": {"domain": ["Pythia 8.186 A14", "Herwig++ 2.7", "Sherpa 2.1"], "range": ["black", "#ee2222", "#2424dd"]}, "legend": null}
          }
        },
        {
          "data": {"name": "lratio"},
          "mark": {"type": "point", "filled": false, "size": 35, "strokeWidth": 1, "opacity": 1},
          "encoding": {
            "x": {"field": "pt", "type": "quantitative", "scale": {"domain": [33, 2597], "nice": false, "zero": false}, "axis": {"orient": "top", "values": [500, 1000, 1500, 2000, 2500], "labels": false, "tickSize": -6, "title": null}},
            "y": {"field": "r", "type": "quantitative", "scale": {"domain": [0.74, 1.3], "nice": false, "zero": false}, "axis": {"orient": "left", "values": [0.75, 0.8, 0.85, 0.9, 0.95, 1, 1.05, 1.1, 1.15, 1.2, 1.25, 1.3], "labels": false, "tickSize": -3, "title": null}},
            "shape": {"field": "series", "type": "nominal", "scale": {"domain": ["Pythia 8.186 A14", "Herwig++ 2.7", "Sherpa 2.1"], "range": ["triangle-up", "cross", "square"]}, "legend": null},
            "stroke": {"field": "series", "type": "nominal", "scale": {"domain": ["Pythia 8.186 A14", "Herwig++ 2.7", "Sherpa 2.1"], "range": ["black", "#ee2222", "#2424dd"]}, "legend": null}
          }
        },
        {
          "data": {"name": "one"},
          "mark": {"type": "text", "text": ""},
          "encoding": {
            "x": {"datum": 1000, "type": "quantitative", "scale": {"domain": [33, 2597], "nice": false, "zero": false}, "axis": {"orient": "bottom", "values": [100, 200, 300, 400, 500, 600, 700, 800, 900, 1000, 1100, 1200, 1300, 1400, 1500, 1600, 1700, 1800, 1900, 2000, 2100, 2200, 2300, 2400, 2500], "labels": false, "tickSize": -3, "title": null}},
            "y": {"datum": 1, "type": "quantitative", "scale": {"domain": [0.74, 1.3], "nice": false, "zero": false}, "axis": {"orient": "right", "values": [0.75, 0.8, 0.85, 0.9, 0.95, 1, 1.05, 1.1, 1.15, 1.2, 1.25, 1.3], "labels": false, "tickSize": -3, "title": null}}
          }
        },
        {
          "data": {"name": "one"},
          "mark": {"type": "text", "text": ""},
          "encoding": {
            "x": {"datum": 1000, "type": "quantitative", "scale": {"domain": [33, 2597], "nice": false, "zero": false}, "axis": {"orient": "top", "values": [100, 200, 300, 400, 500, 600, 700, 800, 900, 1000, 1100, 1200, 1300, 1400, 1500, 1600, 1700, 1800, 1900, 2000, 2100, 2200, 2300, 2400, 2500], "labels": false, "tickSize": -3, "title": null}},
            "y": {"datum": 1, "type": "quantitative", "scale": {"domain": [0.74, 1.3], "nice": false, "zero": false}, "axis": null}
          }
        }
      ]
    },
    {
      "width": 237, "height": 52,
      "resolve": {"axis": {"x": "independent", "y": "independent"}},
      "layer": [
        {
          "data": {"name": "one"},
          "mark": {"type": "rule", "color": "#d8d8d8", "strokeDash": [2, 2]},
          "encoding": {
            "y": {"datum": 1, "type": "quantitative", "scale": {"domain": [0.74, 1.3], "nice": false, "zero": false}, "axis": {"orient": "left", "values": [0.8, 1, 1.2], "tickSize": -6, "labelPadding": 10, "labelExpr": "datum.value == 1 ? '1' : format(datum.value, '.1f')", "title": "MC / Data", "titleFontSize": 11.5, "titlePadding": 6}}
          }
        },
        {
          "data": {"name": "rratio"},
          "mark": {"type": "point", "filled": false, "size": 40, "strokeWidth": 1, "opacity": 1},
          "encoding": {
            "x": {"field": "eta", "type": "quantitative", "scale": {"domain": [-2.1, 2.1], "nice": false, "zero": false}, "axis": {"orient": "bottom", "values": [-2, -1, 0, 1, 2], "tickSize": -6, "labelPadding": 4, "title": "Jet η", "titleFontSize": 13, "titlePadding": 6}},
            "y": {"field": "r", "type": "quantitative", "scale": {"domain": [0.74, 1.3], "nice": false, "zero": false}, "axis": {"orient": "right", "values": [0.8, 1, 1.2], "labels": false, "tickSize": -6, "title": null}},
            "shape": {"field": "dir", "type": "nominal", "scale": {"domain": ["More Forward", "More Central"], "range": ["triangle-up", "triangle-down"]}, "legend": null},
            "stroke": {"field": "series", "type": "nominal", "scale": {"domain": ["Pythia 8.186 A14", "Herwig++ 2.7", "Sherpa 2.1"], "range": ["black", "#ee2222", "#2424dd"]}, "legend": null}
          }
        },
        {
          "data": {"name": "one"},
          "mark": {"type": "text", "text": ""},
          "encoding": {
            "x": {"datum": 0, "type": "quantitative", "scale": {"domain": [-2.1, 2.1], "nice": false, "zero": false}, "axis": {"orient": "top", "values": [-2, -1, 0, 1, 2], "labels": false, "tickSize": -6, "title": null}},
            "y": {"datum": 1, "type": "quantitative", "scale": {"domain": [0.74, 1.3], "nice": false, "zero": false}, "axis": {"orient": "left", "values": [0.75, 0.8, 0.85, 0.9, 0.95, 1, 1.05, 1.1, 1.15, 1.2, 1.25, 1.3], "labels": false, "tickSize": -3, "title": null}}
          }
        },
        {
          "data": {"name": "one"},
          "mark": {"type": "text", "text": ""},
          "encoding": {
            "x": {"datum": 0, "type": "quantitative", "scale": {"domain": [-2.1, 2.1], "nice": false, "zero": false}, "axis": {"orient": "bottom", "values": [-2, -1.8, -1.6, -1.4, -1.2, -1, -0.8, -0.6, -0.4, -0.2, 0, 0.2, 0.4, 0.6, 0.8, 1, 1.2, 1.4, 1.6, 1.8, 2], "labels": false, "tickSize": -3, "title": null}},
            "y": {"datum": 1, "type": "quantitative", "scale": {"domain": [0.74, 1.3], "nice": false, "zero": false}, "axis": {"orient": "right", "values": [0.75, 0.8, 0.85, 0.9, 0.95, 1, 1.05, 1.1, 1.15, 1.2, 1.25, 1.3], "labels": false, "tickSize": -3, "title": null}}
          }
        },
        {
          "data": {"name": "one"},
          "mark": {"type": "text", "text": ""},
          "encoding": {
            "x": {"datum": 0, "type": "quantitative", "scale": {"domain": [-2.1, 2.1], "nice": false, "zero": false}, "axis": {"orient": "top", "values": [-2, -1.8, -1.6, -1.4, -1.2, -1, -0.8, -0.6, -0.4, -0.2, 0, 0.2, 0.4, 0.6, 0.8, 1, 1.2, 1.4, 1.6, 1.8, 2], "labels": false, "tickSize": -3, "title": null}},
            "y": {"datum": 1, "type": "quantitative", "scale": {"domain": [0.74, 1.3], "nice": false, "zero": false}, "axis": null}
          }
        }
      ]
    }
  ]
}
